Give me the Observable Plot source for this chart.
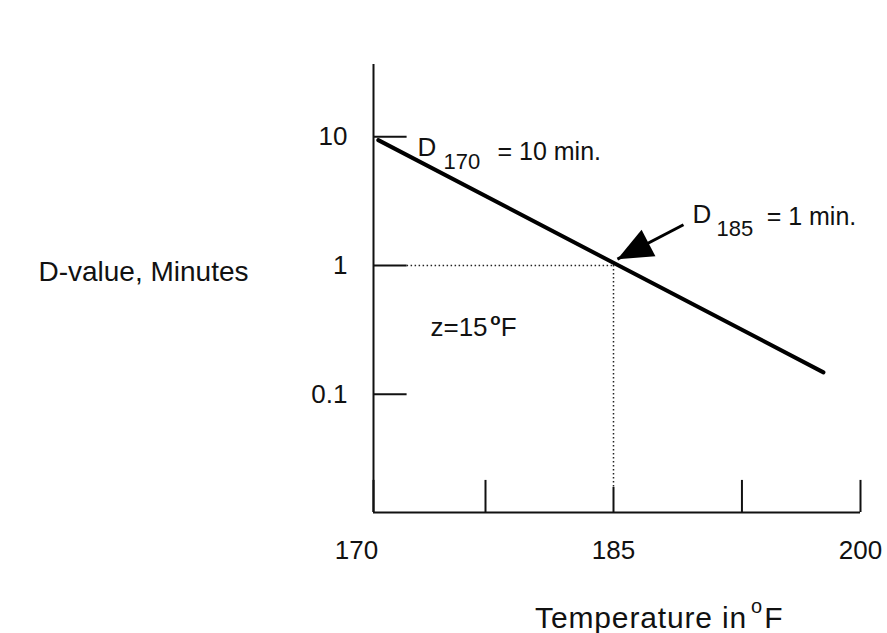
<!DOCTYPE html>
<html>
<head>
<meta charset="utf-8">
<script src="https://cdn.jsdelivr.net/npm/d3@7"></script>
<script src="https://cdn.jsdelivr.net/npm/@observablehq/plot@0.6"></script>
<style>
  body { margin: 0; background: #fff; }
  svg { font-family: "Liberation Sans", Arial, sans-serif; }
</style>
</head>
<body>
<div id="chart"></div>
<script>
// ---- data ----
const temperatures = [170.3, 197.75];         // °F, ends of the drawn line
const dValues = [9.4, 0.148];                 // minutes
const xTicks = [170, 177.0, 185, 192.8, 200];
const xTickLabels = [170, 185, 200];
const yTicks = [0.1, 1, 10];
const yTickLabels = ["0.1", "1", "10"];
const refTemp = [185];                        // D185
const refD = [1];                             // = 1 min
const arrowTail = {t: 189.25, d: 2.07};
const arrowTip = {t: 185.24, d: 1.12};

// ---- scales (hand-drawn axis: piecewise linear) ----
const xDomain = [170, 185, 200];
const xRange = [373, 613, 860];
const yDomain = [0.0121, 36.3];
const yRange = [512, 64];
const sx = d3.scaleLinear(xDomain, xRange);
const sy = d3.scaleLog(yDomain, yRange);
const xMin = xDomain[0], xMax = xDomain[xDomain.length - 1];

const lineData = temperatures.map((t, i) => ({t, d: dValues[i]}));
const font = 26;

// tick lengths in data units
const yTickLen = 2.1;                          // °F
const xTickTop = yDomain[0] * Math.pow(10, 32 / 128.5);
const refTickTop = yDomain[0] * Math.pow(10, 25 / 128.5);

// arrow-head rotation (screen space)
const ang = Math.atan2(sx(arrowTip.t) - sx(arrowTail.t), -(sy(arrowTip.d) - sy(arrowTail.d))) * 180 / Math.PI;
const headSymbol = {
  draw(ctx) {
    ctx.moveTo(0, 0);
    ctx.lineTo(-15, 35);
    ctx.lineTo(15, 35);
    ctx.closePath();
  }
};

const one = [0];
const txt = (s, x, y, opts = {}) => Plot.text(one, {x: () => x, y: () => y, text: () => s, fontSize: font, fill: "#111", textAnchor: "start", lineAnchor: "middle", ...opts});

const chart = Plot.plot({
  width: 887,
  height: 633,
  x: {type: "linear", domain: xDomain, range: xRange, axis: null},
  y: {type: "log", domain: yDomain, range: yRange, axis: null},
  marks: [
    // axes
    Plot.ruleX([xMin], {y1: yDomain[0], y2: yDomain[1], stroke: "#111", strokeWidth: 2}),
    Plot.ruleY([yDomain[0]], {x1: xMin, x2: xMax, stroke: "#111", strokeWidth: 2}),
    Plot.ruleY(yTicks, {x1: xMin, x2: xMin + yTickLen, stroke: "#111", strokeWidth: 2}),
    Plot.ruleX(xTicks.filter(t => !refTemp.includes(t)), {y1: yDomain[0], y2: xTickTop, stroke: "#111", strokeWidth: 2}),
    Plot.ruleX(refTemp, {y1: yDomain[0], y2: refTickTop, stroke: "#111", strokeWidth: 2}),
    Plot.text(yTicks, {x: xMin, y: d => d, text: (d, i) => yTickLabels[i], textAnchor: "end", dx: -26, fontSize: font, fill: "#111"}),
    Plot.text(xTickLabels.filter(t => t !== 170), {x: d => d, y: yDomain[0], text: d => String(d), dy: 38, fontSize: font, fill: "#111"}),
    Plot.text([170], {x: d => d, y: yDomain[0], text: d => String(d), dy: 38, dx: -17, fontSize: font, fill: "#111"}),
    // reference crosshair
    Plot.ruleY(refD, {x1: xMin + yTickLen, x2: refTemp[0], stroke: "#222", strokeWidth: 1.5, strokeDasharray: "1.5,2.5"}),
    Plot.ruleX(refTemp, {y1: refD[0], y2: refTickTop, stroke: "#222", strokeWidth: 1.5, strokeDasharray: "1.5,2.5"}),
    // D-value line
    Plot.line(lineData, {x: "t", y: "d", stroke: "#000", strokeWidth: 4, strokeLinecap: "round"}),
    // arrow
    Plot.link(one, {x1: () => arrowTail.t, y1: () => arrowTail.d, x2: () => arrowTip.t, y2: () => arrowTip.d, stroke: "#000", strokeWidth: 3}),
    Plot.dot(one, {x: () => arrowTip.t, y: () => arrowTip.d, symbol: headSymbol, fill: "#000", stroke: "none", rotate: ang}),
    // annotations
    txt("D", 172.75, 8.21),
    txt("170", 174.375, 6.39, {fontSize: 22}),
    txt("= 10 min.", 177.75, 7.64, {fontSize: 25}),
    txt("D", 189.8, 2.47),
    txt("185", 191.25, 1.92, {fontSize: 22}),
    txt("= 1 min.", 194.3, 2.38, {fontSize: 25}),
    txt("z=15", 173.56, 0.332),
    txt("o", 177.3, 0.38, {fontSize: 17, fontWeight: "bold"}),
    txt("F", 177.95, 0.332),
    // axis titles
    txt("D-value, Minutes", 149.06, 0.89, {fontSize: 28}),
    txt("Temperature in", 180.1, 0.00181, {fontSize: 30}),
    txt("o", 193.35, 0.00224, {fontSize: 20}),
    txt("F", 194.15, 0.00181, {fontSize: 30})
  ]
});
d3.select(chart).selectAll("text")
  .filter(function() { return this.textContent === "Temperature in"; })
  .attr("letter-spacing", 0.85);
document.getElementById("chart").append(chart);
</script>
</body>
</html>
